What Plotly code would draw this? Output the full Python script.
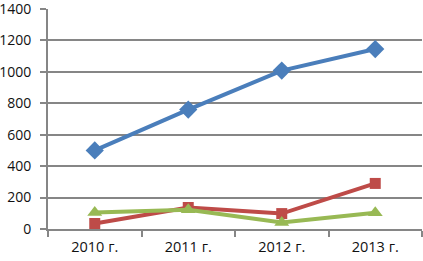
import plotly.graph_objects as go

categories = ["2010 г.", "2011 г.", "2012 г.", "2013 г."]
series_blue = [500, 760, 1008, 1145]
series_red = [35, 137, 98, 290]
series_green = [105, 122, 42, 103]
y_ticks = [0, 200, 400, 600, 800, 1000, 1200, 1400]

fig = go.Figure()
fig.add_trace(go.Scatter(x=categories, y=series_blue, mode="lines+markers",
                         line=dict(color="#4A7EBB", width=4),
                         marker=dict(symbol="diamond", size=14, color="#4A7EBB")))
fig.add_trace(go.Scatter(x=categories, y=series_red, mode="lines+markers",
                         line=dict(color="#BE4B48", width=4),
                         marker=dict(symbol="square", size=11, color="#BE4B48")))
fig.add_trace(go.Scatter(x=categories, y=series_green, mode="lines+markers",
                         line=dict(color="#98B954", width=4),
                         marker=dict(symbol="triangle-up", size=13, color="#98B954")))

fig.update_layout(
    width=423, height=261,
    margin=dict(l=48, r=1, t=9, b=32, autoexpand=False),
    paper_bgcolor="white", plot_bgcolor="white",
    showlegend=False,
    font=dict(family="Open Sans", size=14, color="#111111"),
    xaxis=dict(type="category", range=[-0.5, 3.5], showgrid=False, automargin=False,
               showline=True, linecolor="#868686", linewidth=2,
               ticks="outside", tickson="boundaries", ticklen=6,
               tickcolor="#868686", tickwidth=1.5, ticklabelstandoff=4,
               ticklabeloverflow="allow", tickfont=dict(size=14.5)),
    yaxis=dict(range=[0, 1400], tickvals=y_ticks, showgrid=True, automargin=False,
               gridcolor="#868686", gridwidth=1.5, zeroline=False,
               showline=True, linecolor="#868686", linewidth=2,
               ticks="outside", ticklen=6, tickcolor="#868686", tickwidth=1.5,
               ticklabelstandoff=6, ticklabeloverflow="allow"),
)

fig.write_html("out.html", config={"displayModeBar": False},
               post_script="document.body.style.margin='0';document.body.style.overflow='hidden';")
